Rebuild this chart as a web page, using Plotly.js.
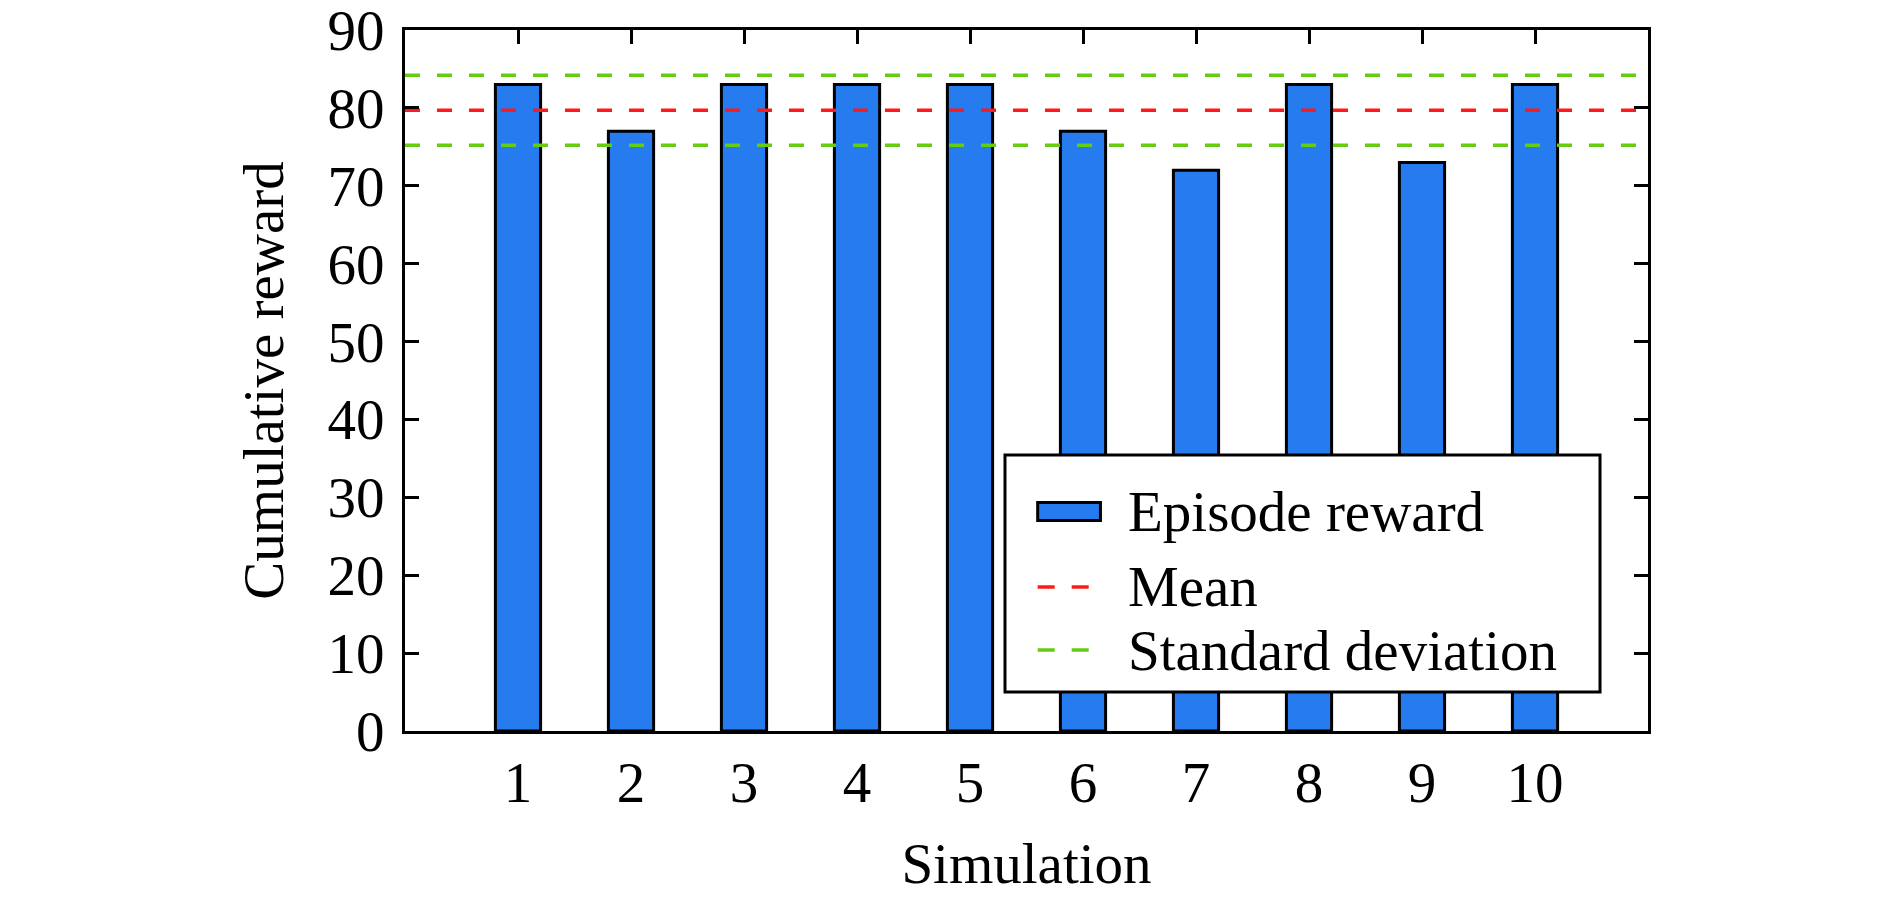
<!DOCTYPE html>
<html>
<head>
<meta charset="utf-8">
<script src="https://cdn.plot.ly/plotly-3.0.1.min.js"></script>
<style>
  html, body { margin: 0; padding: 0; background: #fff; }
  #chart { width: 1890px; height: 905px; }
</style>
</head>
<body>
<div id="chart"></div>
<script>
// ---- data ----
const simulations = [1, 2, 3, 4, 5, 6, 7, 8, 9, 10];
const episodeReward = [83, 77, 83, 83, 83, 77, 72, 83, 73, 83];
const meanValue = [79.7];
const stdBounds = [84.2, 75.2];
const xTickLabels = ['1', '2', '3', '4', '5', '6', '7', '8', '9', '10'];
const legendLabels = ['Episode reward', 'Mean', 'Standard deviation'];

const FONT = 'Liberation Serif, Times New Roman, serif';
const FS = 57;
const BAR_COLOR = '#267BEF';
const RED = '#FF1A1A';
const GREEN = '#66CC11';
const xRange = [0, 11];

const traces = [
  {
    type: 'bar',
    x: simulations,
    y: episodeReward,
    width: 0.4,
    marker: { color: BAR_COLOR, line: { color: '#000', width: 3 } },
    showlegend: false,
    hoverinfo: 'skip'
  },
  {
    type: 'scatter', mode: 'lines',
    x: xRange, y: [meanValue[0], meanValue[0]],
    line: { color: RED, width: 3.5, dash: '15px,17px' },
    showlegend: false, hoverinfo: 'skip'
  },
  {
    type: 'scatter', mode: 'lines',
    x: xRange, y: [stdBounds[0], stdBounds[0]],
    line: { color: GREEN, width: 3.5, dash: '15px,17px' },
    showlegend: false, hoverinfo: 'skip'
  },
  {
    type: 'scatter', mode: 'lines',
    x: xRange, y: [stdBounds[1], stdBounds[1]],
    line: { color: GREEN, width: 3.5, dash: '15px,17px' },
    showlegend: false, hoverinfo: 'skip'
  }
];

// custom legend (paper coordinates of the plot area)
const L = { x0: 0.4827, x1: 0.9614, y0: 0.0556, y1: 0.3937 };
const symX0 = 0.509, symX1 = 0.5595;
const rowY = [0.313, 0.2055, 0.1155];
const textX = 0.58;

const shapes = [
  { type: 'rect', xref: 'paper', yref: 'paper', x0: L.x0, x1: L.x1, y0: L.y0, y1: L.y1,
    fillcolor: '#fff', line: { color: '#000', width: 3 }, layer: 'above' },
  { type: 'rect', xref: 'paper', yref: 'paper', x0: symX0, x1: symX1, y0: rowY[0] - 0.0128, y1: rowY[0] + 0.0128,
    fillcolor: BAR_COLOR, line: { color: '#000', width: 3 }, layer: 'above' },
  { type: 'line', xref: 'paper', yref: 'paper', x0: symX0, x1: symX1, y0: rowY[1], y1: rowY[1],
    line: { color: RED, width: 3.5, dash: '17px,17px' }, layer: 'above' },
  { type: 'line', xref: 'paper', yref: 'paper', x0: symX0, x1: symX1, y0: rowY[2], y1: rowY[2],
    line: { color: GREEN, width: 3.5, dash: '17px,17px' }, layer: 'above' }
];

const annotations = legendLabels.map((t, i) => ({
  xref: 'paper', yref: 'paper', x: textX, y: rowY[i],
  xanchor: 'left', yanchor: 'middle', text: t, showarrow: false,
  font: { family: FONT, size: FS, color: '#000' }
}));

const axisCommon = {
  showline: true, linecolor: '#000', linewidth: 3, mirror: 'ticks',
  ticks: 'inside', ticklen: 14, tickwidth: 3, tickcolor: '#000',
  showgrid: false, zeroline: false, ticklabeloverflow: 'allow',
  tickfont: { family: FONT, size: FS, color: '#000' }
};

const layout = {
  width: 1890, height: 905,
  paper_bgcolor: '#fff', plot_bgcolor: '#fff',
  margin: { l: 405, r: 242, t: 30, b: 174, pad: 0 },
  font: { family: FONT, size: FS, color: '#000' },
  showlegend: false,
  xaxis: Object.assign({}, axisCommon, {
    range: xRange, tickmode: 'array', tickvals: simulations, ticktext: xTickLabels,
    layer: 'below traces',
    title: { text: 'Simulation', font: { family: FONT, size: FS, color: '#000' }, standoff: 30 }
  }),
  yaxis: Object.assign({}, axisCommon, {
    range: [0, 90], tick0: 0, dtick: 10, ticklabelstandoff: 6,
    title: { text: 'Cumulative reward', font: { family: FONT, size: FS, color: '#000' }, standoff: 26 }
  }),
  shapes: shapes,
  annotations: annotations
};

Plotly.newPlot('chart', traces, layout, { staticPlot: true, displayModeBar: false });
</script>
</body>
</html>
